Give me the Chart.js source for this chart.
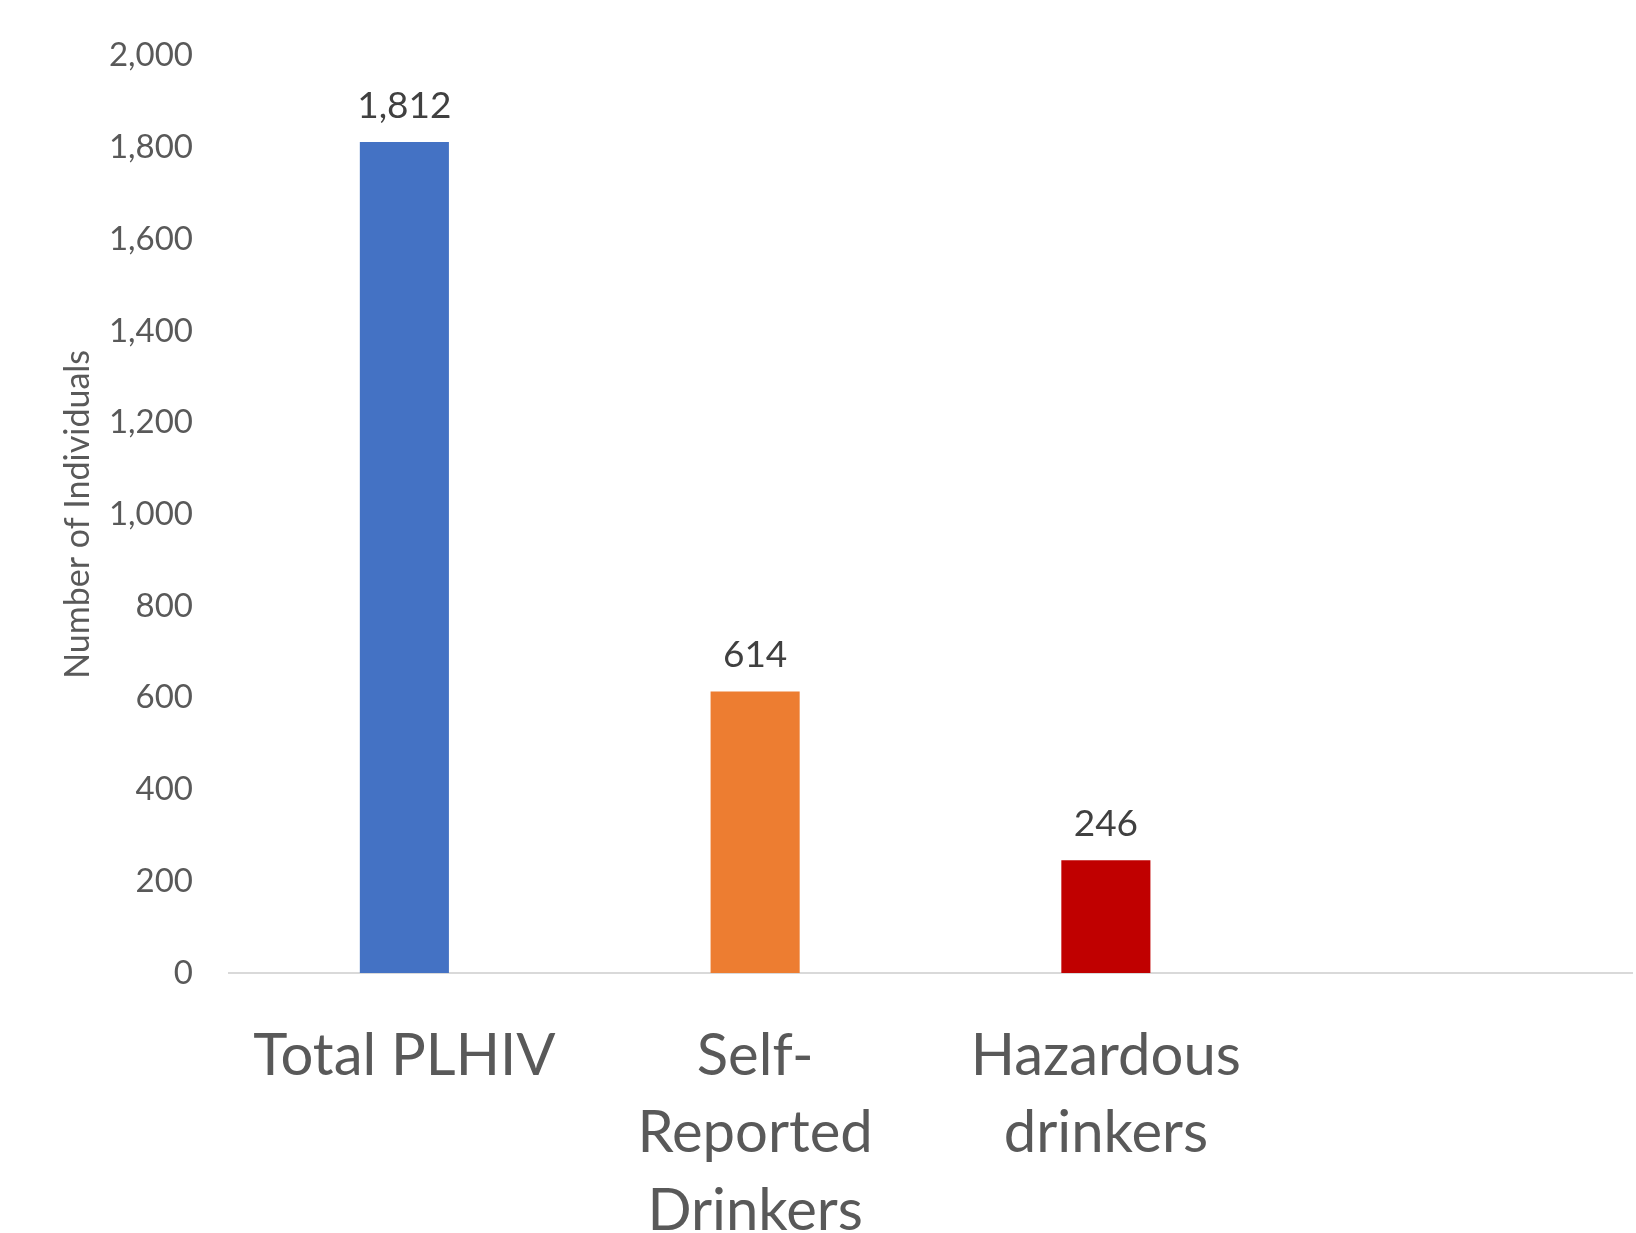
<!DOCTYPE html>
<html>
<head>
<meta charset="utf-8">
<script src="https://cdn.jsdelivr.net/npm/chart.js@4/dist/chart.umd.min.js"></script>
<style>
  html, body { margin: 0; padding: 0; background: #fff; }
  canvas { display: block; }
</style>
</head>
<body>
<canvas id="chart" width="1636" height="1233"></canvas>
<script>
// datos del gráfico
const categories = [["Total PLHIV"], ["Self-", "Reported", "Drinkers"], ["Hazardous", "drinkers"], [""]];
const individuals = [1812, 614, 246, null];
const barColors = ["#4472C4", "#ED7D31", "#C00000", "#ffffff"];
const yTicks = [0, 200, 400, 600, 800, 1000, 1200, 1400, 1600, 1800, 2000];

// etiquetas de valor encima de cada barra
const valueLabels = {
  id: "valueLabels",
  afterDatasetsDraw(chart) {
    const ctx = chart.ctx;
    const meta = chart.getDatasetMeta(0);
    ctx.save();
    ctx.font = "37px Lato";
    ctx.fillStyle = "#404040";
    ctx.textAlign = "center";
    ctx.textBaseline = "middle";
    meta.data.forEach((bar, i) => {
      const v = individuals[i];
      if (v == null) return;
      ctx.fillText(v.toLocaleString("en-US"), bar.x, bar.y - 36);
    });
    ctx.restore();
  },
};

const chart = new Chart(document.getElementById("chart"), {
  type: "bar",
  data: {
    labels: categories,
    datasets: [
      {
        data: individuals,
        backgroundColor: barColors,
        categoryPercentage: 1,
        barPercentage: 0.254,
      },
    ],
  },
  options: {
    responsive: false,
    animation: false,
    layout: { padding: { top: 53, right: 4, left: 0, bottom: 0 } },
    plugins: {
      legend: { display: false },
      tooltip: { enabled: false },
    },
    scales: {
      x: {
        grid: { display: false, drawTicks: false },
        border: { display: true, color: "#d9d9d9", width: 2 },
        ticks: {
          color: "#595959",
          font: { family: "Lato", size: 58, lineHeight: 1.33 },
          padding: 45,
          maxRotation: 0,
          autoSkip: false,
        },
        afterFit: (axis) => {
          axis.height = 260;
        },
      },
      y: {
        min: 0,
        max: 2000,
        afterBuildTicks: (axis) => {
          axis.ticks = yTicks.map((v) => ({ value: v }));
        },
        grid: { display: false, drawTicks: false },
        border: { display: false },
        ticks: {
          color: "#595959",
          font: { family: "Lato", size: 33 },
          padding: 36,
          callback: (v) => v.toLocaleString("en-US"),
        },
        title: {
          display: true,
          text: "Number of Individuals",
          color: "#595959",
          font: { family: "Lato", size: 34 },
          padding: { top: 58, bottom: 0 },
        },
        afterFit: (axis) => {
          axis.width = 229;
        },
      },
    },
  },
  plugins: [valueLabels],
});
</script>
</body>
</html>
